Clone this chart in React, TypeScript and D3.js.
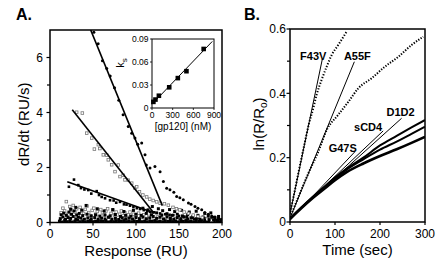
import React from 'react';
import * as d3 from 'd3';

// ---------- Panel A data ----------
const responseTicks = [0, 50, 100, 150, 200];
const rateTicks = [0, 2, 4, 6];
const rateMinorTicks = [1, 3, 5];

// filled dots (highest concentration)
const seriesDots: [number, number][] = [
  [51, 6.92], [56, 6.5], [61, 5.88], [66, 5.6], [70, 5.33], [75, 4.9], [80, 4.45], [85, 3.92],
  [91, 3.49], [95, 3.25], [98.8, 3.07], [102, 2.85], [106.6, 2.89], [110.5, 2.46], [112, 2.09],
  [116.3, 1.98], [122, 2.04], [128, 1.85], [131.8, 1.49], [135.7, 1.25], [139.5, 1.19], [144, 1.1],
  [147.3, 0.95], [151, 0.9], [155, 0.83], [161, 0.71], [164, 0.66], [168.6, 0.58], [172, 0.52],
  [176.4, 0.46], [180, 0.36], [184, 0.3], [188, 0.24], [192, 0.2], [196, 0.15], [199, 0.1],
];

// open squares (middle concentration)
const seriesOpen: [number, number][] = [
  [31, 4.01], [37.6, 3.98], [42.7, 3.25], [48.5, 3.07], [51.6, 2.67], [56.2, 2.83], [58, 2.69],
  [62, 2.46], [66, 2.45], [67.8, 2.28], [71.7, 2.1], [75.6, 1.85], [79.4, 2.09], [81.4, 1.67],
  [85, 1.72], [87.2, 1.55], [91, 1.54], [95, 1.43], [98.8, 1.25], [100.8, 1.3], [104, 1.12],
  [108, 1.0], [112.4, 0.93], [116, 0.85], [120, 0.8], [124, 0.75], [128, 0.7], [133, 0.68],
  [137.6, 0.63], [143, 0.55], [147, 0.5], [151, 0.46], [156, 0.38], [161, 0.33], [166.6, 0.27],
  [172, 0.22], [177, 0.18], [182, 0.12], [188, 0.08],
];

// filled small squares (lower concentration)
const seriesFilled: [number, number][] = [
  [22, 1.3], [27.9, 1.56], [32.9, 1.36], [36, 1.25], [40, 1.2], [44.5, 1.18], [48, 1.05],
  [54.3, 1.14], [57, 1.0], [60.1, 0.93], [64, 0.88], [69.8, 0.81], [74, 0.8], [77, 0.72],
  [81.4, 0.75], [86, 0.66], [89, 0.65], [93, 0.61], [97, 0.56], [101, 0.52], [104.7, 0.49],
  [109, 0.45], [113, 0.42], [116.3, 0.39], [121, 0.37], [128, 0.33], [134, 0.3], [139, 0.28],
  [143.4, 0.27], [150, 0.24], [155, 0.22], [159, 0.21], [165, 0.17], [170, 0.14], [174.4, 0.12],
  [180, 0.1], [185, 0.1], [190, 0.09], [195, 0.07], [199, 0.05],
];

// low-concentration open squares near baseline
const seriesLowOpen: [number, number][] = [
  [13, 0.35], [15, 0.52], [17, 0.42], [19, 0.76], [21, 0.3], [23, 0.58], [25, 0.45], [27, 0.62],
  [29, 0.38], [31, 0.5], [33, 0.28], [35, 0.55], [37, 0.42], [39, 0.33], [41, 0.48], [43, 0.6],
  [45, 0.36], [47, 0.25], [49, 0.44], [51, 0.52], [53, 0.3], [55, 0.4], [57, 0.22], [59, 0.47],
  [61, 0.35], [63, 0.28], [65, 0.42], [67, 0.5], [69, 0.2], [71, 0.33], [73, 0.45], [75, 0.27],
  [77, 0.38], [79, 0.18], [81, 0.3], [83, 0.42], [85, 0.25], [87, 0.35], [89, 0.15], [91, 0.28],
  [93, 0.38], [95, 0.2], [97, 0.3], [100, 0.24], [103, 0.34], [106, 0.18], [109, 0.28], [112, 0.14],
  [115, 0.22], [118, 0.3], [121, 0.12], [125, 0.2], [129, 0.26], [133, 0.1], [137, 0.18], [141, 0.08],
  [146, 0.14], [151, 0.06], [156, 0.12], [161, 0.05],
];

// low-concentration filled squares near baseline
const seriesLowFilled: [number, number][] = [
  [11, 0.05], [14, 0.02], [17, 0.07], [20, 0.03], [23, 0.06], [26, 0.02], [29, 0.05], [32, 0.08],
  [35, 0.03], [38, 0.06], [41, 0.02], [44, 0.05], [47, 0.07], [50, 0.03], [53, 0.05], [56, 0.02],
  [59, 0.06], [62, 0.04], [65, 0.07], [68, 0.02], [71, 0.05], [74, 0.03], [77, 0.06], [80, 0.02],
  [83, 0.05], [86, 0.07], [89, 0.03], [92, 0.05], [95, 0.02], [98, 0.06], [101, 0.04], [104, 0.07],
  [107, 0.03], [110, 0.05], [113, 0.02], [116, 0.06], [119, 0.04], [122, 0.07], [125, 0.03], [128, 0.05],
  [131, 0.02], [134, 0.06], [137, 0.04], [140, 0.07], [143, 0.03], [146, 0.05], [149, 0.02], [152, 0.06],
  [155, 0.04], [158, 0.07], [161, 0.03], [164, 0.05], [167, 0.02], [170, 0.06], [173, 0.04], [176, 0.07],
  [179, 0.03], [182, 0.05], [185, 0.02], [188, 0.06], [191, 0.04], [194, 0.07], [197, 0.03], [200, 0.05],
  [12, 0.14], [15, 0.2], [18, 0.12], [21, 0.18], [24, 0.15], [27, 0.22], [30, 0.13], [33, 0.19],
  [36, 0.16], [40, 0.12], [44, 0.17], [48, 0.13], [52, 0.18], [56, 0.11], [60, 0.16], [64, 0.13],
  [68, 0.19], [72, 0.12], [76, 0.15], [80, 0.11], [84, 0.17], [88, 0.13], [92, 0.16], [96, 0.12],
  [100, 0.18], [104, 0.14], [108, 0.2], [112, 0.13], [116, 0.17], [120, 0.22], [124, 0.15], [128, 0.19],
  [132, 0.13], [136, 0.21], [140, 0.16], [144, 0.12], [148, 0.18], [152, 0.14], [156, 0.2], [160, 0.13],
  [164, 0.17], [168, 0.12], [172, 0.16], [176, 0.11], [180, 0.15], [184, 0.13], [188, 0.17], [192, 0.12],
  [196, 0.14], [199, 0.1],
  [13, 0.28], [16, 0.34], [19, 0.26], [22, 0.38], [25, 0.3], [28, 0.42], [31, 0.27], [34, 0.33],
  [38, 0.25], [43, 0.3], [48, 0.24], [53, 0.28], [58, 0.23], [64, 0.27], [70, 0.24], [76, 0.29],
  [82, 0.22], [88, 0.26], [94, 0.23], [100, 0.3], [106, 0.26], [112, 0.33], [118, 0.28], [124, 0.35],
  [130, 0.27], [136, 0.32], [142, 0.26], [148, 0.3], [154, 0.24], [160, 0.28], [166, 0.22], [172, 0.26],
  [178, 0.2], [184, 0.24], [190, 0.19], [196, 0.22],
  [24, 0.48], [30, 0.55], [37, 0.45], [42, 0.62], [55, 0.5], [63, 0.42], [73, 0.47], [86, 0.4],
  [97, 0.44], [108, 0.52], [114, 0.46], [119, 0.58], [126, 0.5], [131, 0.43], [139, 0.47], [145, 0.4],
  [153, 0.44], [162, 0.38], [170, 0.41], [180, 0.33], [187, 0.35],
];

// linear fits (dR/dt = intercept + slope * R), drawn between R = from .. to
const fitIntercepts = [10.63, 5.13, 1.705];
const fitSlopes = [-0.0767, -0.0396, -0.0112];
const fitFrom = [47.3, 25.9, 20.1];
const fitTo = [130.6, 121, 120];

// inset: ks vs [gp120]
const gp120Conc = [20, 50, 100, 250, 375, 500, 750];
const ksValues = [0.008, 0.011, 0.016, 0.027, 0.039, 0.048, 0.077];
const ksFitIntercept = 0.005;
const ksFitSlope = 0.0000935;
const ksFitRange = [0, 875];
const insetXTicks = [0, 300, 600, 900];
const insetYTicks = [0, 0.03, 0.06, 0.09];

// ---------- Panel B data ----------
const timeTicks = [0, 100, 200, 300];
const lnTicks = [0, 0.2, 0.4, 0.6];
const lnMinorTicks = [0.1, 0.3, 0.5];

const f43vT = [0, 8, 18, 30, 42, 52, 59, 70, 81.5, 92.6, 107, 126];
const f43vV = [0.03, 0.08, 0.148, 0.228, 0.305, 0.355, 0.395, 0.441, 0.483, 0.519, 0.55, 0.592];
const a55fT = [0, 3.7, 22, 40.7, 63, 81.5, 107, 130, 152, 181.5, 211, 241, 270, 296];
const a55fV = [0.015, 0.027, 0.089, 0.151, 0.219, 0.286, 0.333, 0.374, 0.416, 0.447, 0.483, 0.514, 0.55, 0.576];
const lowT = [0, 25, 50, 75, 100, 126, 163, 200, 237, 270, 300];
const d1d2V = [0.01, 0.045, 0.078, 0.108, 0.138, 0.166, 0.2, 0.238, 0.268, 0.294, 0.317];
const scd4V = [0.01, 0.044, 0.076, 0.105, 0.135, 0.163, 0.195, 0.225, 0.25, 0.274, 0.296];
const g47sV = [0.01, 0.043, 0.074, 0.102, 0.13, 0.155, 0.182, 0.205, 0.226, 0.246, 0.265];

const mutantNames = ['F43V', 'A55F', 'G47S', 'sCD4', 'D1D2'];
const initSlopes = [0.0067, 0.0034, 0.00148, 0.00132, 0.00126];
const initIntercepts = [0.025, 0.012, 0.005, 0.01, 0.01];
const initEnds = [72, 143, 144, 207, 248];

// ---------- layout ----------
const FONT = '"Liberation Sans", Arial, Helvetica, sans-serif';
const xA = d3.scaleLinear().domain([0, 200]).range([50, 222]);
const yA = d3.scaleLinear().domain([0, 7]).range([222.5, 30]);
const xI = d3.scaleLinear().domain([0, 900]).range([152, 214]);
const yI = d3.scaleLinear().domain([0, 0.09]).range([108, 39]);
const xB = d3.scaleLinear().domain([0, 300]).range([290, 425]);
const yB = d3.scaleLinear().domain([0, 0.6]).range([222, 29]);

const labelPlacement: Record<string, { dx: number; dy: number; anchor: string }> = {
  F43V: { dx: 4, dy: 1, anchor: 'end' },
  A55F: { dx: 3, dy: -2, anchor: 'middle' },
  G47S: { dx: 2, dy: 0, anchor: 'end' },
  sCD4: { dx: -1, dy: 0, anchor: 'end' },
  D1D2: { dx: -1, dy: -2, anchor: 'middle' },
};

export default function App() {
  const lineA = d3.line<[number, number]>().x((d) => xA(d[0])).y((d) => yA(d[1]));
  const lineB = d3.line<[number, number]>().x((d) => xB(d[0])).y((d) => yB(d[1])).curve(d3.curveMonotoneX);
  const lineBStraight = d3.line<[number, number]>().x((d) => xB(d[0])).y((d) => yB(d[1]));
  const lineI = d3.line<[number, number]>().x((d) => xI(d[0])).y((d) => yI(d[1]));

  const sq = 2.6;
  const lowCurves = [d1d2V, scd4V, g47sV];

  return (
    <svg width={440} height={264} style={{ position: 'absolute', left: 0, top: 0, background: '#fff' }} fontFamily={FONT}>
      <rect x={0} y={0} width={440} height={264} fill="#fff" />
      {/* Panel letters */}
      <text x={16} y={20} fontSize={16} fontWeight="bold">A.</text>
      <text x={244} y={20} fontSize={16} fontWeight="bold">B.</text>

      {/* ---------- Panel A ---------- */}
      <defs>
        <clipPath id="clipA">
          <rect x={xA(0)} y={yA(7)} width={xA(200) - xA(0)} height={yA(0) - yA(7)} />
        </clipPath>
        <clipPath id="clipB">
          <rect x={xB(0)} y={yB(0.6)} width={xB(300) - xB(0)} height={yB(0) - yB(0.6)} />
        </clipPath>
      </defs>

      <g clipPath="url(#clipA)">
        {seriesLowOpen.map((d, i) => (
          <rect key={'lo' + i} x={xA(d[0]) - sq / 2} y={yA(d[1]) - sq / 2} width={sq} height={sq}
            fill="#fff" stroke="#777" strokeWidth={0.8} />
        ))}
        {seriesLowFilled.map((d, i) => (
          <rect key={'lf' + i} x={xA(d[0]) - 1.5} y={yA(d[1]) - 1.5} width={3} height={3} fill="#000" />
        ))}
        {seriesOpen.map((d, i) => (
          <rect key={'o' + i} x={xA(d[0]) - sq / 2} y={yA(d[1]) - sq / 2} width={sq} height={sq}
            fill="#fff" stroke="#777" strokeWidth={0.8} />
        ))}
        {seriesFilled.map((d, i) => (
          <rect key={'f' + i} x={xA(d[0]) - 1.3} y={yA(d[1]) - 1.3} width={2.6} height={2.6} fill="#000" />
        ))}
        {seriesDots.map((d, i) => (
          <circle key={'d' + i} cx={xA(d[0])} cy={yA(d[1])} r={1.5} fill="#000" />
        ))}
        {fitSlopes.map((s, i) => (
          <path key={'fit' + i}
            d={lineA([[fitFrom[i], fitIntercepts[i] + s * fitFrom[i]], [fitTo[i], fitIntercepts[i] + s * fitTo[i]]]) || ''}
            stroke="#000" strokeWidth={1.6} fill="none" />
        ))}
      </g>

      {/* Panel A frame and axes */}
      <rect x={xA(0)} y={yA(7)} width={xA(200) - xA(0)} height={yA(0) - yA(7)} fill="none" stroke="#000" strokeWidth={1.5} />
      {rateTicks.map((t) => (
        <g key={'ry' + t}>
          <line x1={xA(0) - 3.5} x2={xA(0)} y1={yA(t)} y2={yA(t)} stroke="#000" strokeWidth={1.2} />
          <text x={xA(0) - 7} y={yA(t)} dy="0.36em" fontSize={12} textAnchor="end">{t}</text>
        </g>
      ))}
      {rateMinorTicks.map((t) => (
        <line key={'rym' + t} x1={xA(0) - 3} x2={xA(0)} y1={yA(t)} y2={yA(t)} stroke="#000" strokeWidth={1.2} />
      ))}
      {responseTicks.map((t) => (
        <g key={'rx' + t}>
          <line x1={xA(t)} x2={xA(t)} y1={yA(0)} y2={yA(0) + 3} stroke="#000" strokeWidth={1.2} />
          <text x={xA(t)} y={yA(0) + 15} fontSize={12} textAnchor="middle">{t}</text>
        </g>
      ))}
      <text x={(xA(0) + xA(200)) / 2} y={256} fontSize={15} textAnchor="middle">Response (RU)</text>
      <text transform={`translate(28.5,${(yA(0) + yA(7)) / 2 - 2}) rotate(-90)`} fontSize={15} textAnchor="middle">dR/dt (RU/s)</text>

      {/* Inset */}
      <rect x={xI(0)} y={yI(0.09)} width={xI(900) - xI(0)} height={yI(0) - yI(0.09)} fill="#fff" stroke="#000" strokeWidth={1} />
      <path d={lineI([[ksFitRange[0], ksFitIntercept + ksFitSlope * ksFitRange[0]], [ksFitRange[1], ksFitIntercept + ksFitSlope * ksFitRange[1]]]) || ''}
        stroke="#000" strokeWidth={1} fill="none" />
      {gp120Conc.map((c, i) => (
        <rect key={'ks' + i} x={xI(c) - 2.3} y={yI(ksValues[i]) - 2.3} width={4.6} height={4.6} fill="#000" />
      ))}
      {insetYTicks.map((t) => (
        <g key={'iy' + t}>
          <line x1={xI(0) - 2} x2={xI(0)} y1={yI(t)} y2={yI(t)} stroke="#000" strokeWidth={0.8} />
          <text x={xI(0) - 3.5} y={yI(t)} dy="0.36em" fontSize={8.5} textAnchor="end">{t === 0 ? '0' : t.toFixed(2)}</text>
        </g>
      ))}
      {insetXTicks.map((t) => (
        <g key={'ix' + t}>
          <line x1={xI(t)} x2={xI(t)} y1={yI(0)} y2={yI(0) + 2} stroke="#000" strokeWidth={0.8} />
          <text x={xI(t)} y={yI(0) + 10} fontSize={8.5} textAnchor="middle">{t}</text>
        </g>
      ))}
      <text x={(xI(0) + xI(900)) / 2} y={130} fontSize={10} textAnchor="middle">[gp120] (nM)</text>
      <text transform={`translate(124,${yI(0.06) + 1}) rotate(-90)`} fontSize={11} textAnchor="middle">
        k<tspan fontSize={8} dy={3}>s</tspan>
      </text>

      {/* ---------- Panel B ---------- */}
      <g clipPath="url(#clipB)">
        <path d={lineB(f43vT.map((t, i) => [t, f43vV[i]] as [number, number])) || ''}
          stroke="#000" strokeWidth={2} fill="none" strokeDasharray="1.3 1.7" />
        <path d={lineB(a55fT.map((t, i) => [t, a55fV[i]] as [number, number])) || ''}
          stroke="#000" strokeWidth={2} fill="none" strokeDasharray="1.3 1.5" />
        {lowCurves.map((vals, k) => (
          <path key={'lc' + k} d={lineB(lowT.map((t, i) => [t, vals[i]] as [number, number])) || ''}
            stroke="#000" strokeWidth={k === 2 ? 2.6 : 2} fill="none" />
        ))}
        {mutantNames.map((n, i) => (
          <path key={'il' + n}
            d={lineBStraight([[0, initIntercepts[i]], [initEnds[i], initIntercepts[i] + initSlopes[i] * initEnds[i]]]) || ''}
            stroke="#000" strokeWidth={1} fill="none" />
        ))}
      </g>
      {mutantNames.map((n, i) => {
        const ex = xB(initEnds[i]);
        const ey = yB(initIntercepts[i] + initSlopes[i] * initEnds[i]);
        const p = labelPlacement[n];
        return (
          <text key={'lab' + n} x={ex + p.dx} y={ey + p.dy} fontSize={11} fontWeight="bold" textAnchor={p.anchor}>{n}</text>
        );
      })}

      <rect x={xB(0)} y={yB(0.6)} width={xB(300) - xB(0)} height={yB(0) - yB(0.6)} fill="none" stroke="#000" strokeWidth={1.5} />
      {lnTicks.map((t) => (
        <g key={'ly' + t}>
          <line x1={xB(0) - 3.5} x2={xB(0)} y1={yB(t)} y2={yB(t)} stroke="#000" strokeWidth={1.2} />
          <text x={xB(0) - 4} y={yB(t)} dy="0.36em" fontSize={12} textAnchor="end">{t === 0 ? '0' : t.toFixed(1)}</text>
        </g>
      ))}
      {lnMinorTicks.map((t) => (
        <line key={'lym' + t} x1={xB(0) - 3} x2={xB(0)} y1={yB(t)} y2={yB(t)} stroke="#000" strokeWidth={1.2} />
      ))}
      {timeTicks.map((t) => (
        <g key={'tx' + t}>
          <line x1={xB(t)} x2={xB(t)} y1={yB(0)} y2={yB(0) + 3} stroke="#000" strokeWidth={1.2} />
          <text x={xB(t)} y={yB(0) + 16} fontSize={12} textAnchor="middle">{t}</text>
        </g>
      ))}
      <text x={(xB(0) + xB(300)) / 2} y={255} fontSize={15} textAnchor="middle">Time (sec)</text>
      <text transform={`translate(263.5,124) rotate(-90)`} fontSize={15} textAnchor="middle">
        ln(R/R<tspan fontSize={10} dy={3}>o</tspan><tspan dy={-3}>)</tspan>
      </text>
    </svg>
  );
}
